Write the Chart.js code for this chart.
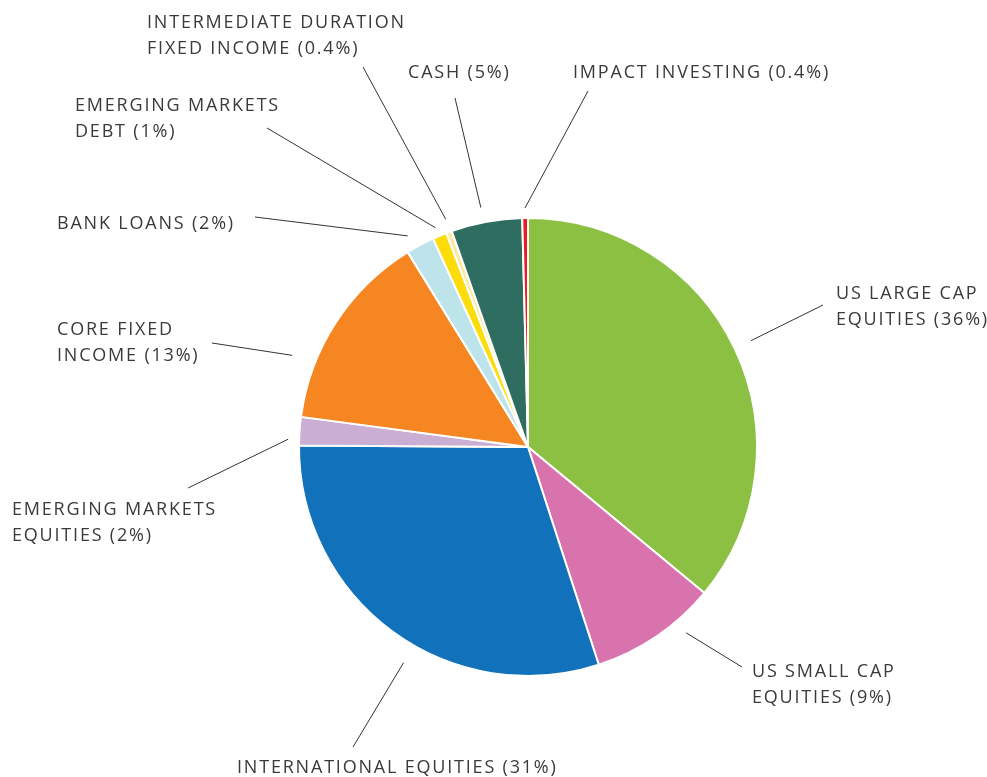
<!DOCTYPE html>
<html>
<head>
<meta charset="utf-8">
<script src="https://cdn.jsdelivr.net/npm/chart.js@4/dist/chart.umd.min.js"></script>
<style>
  body { margin: 0; background: #fff; }
  #wrap { width: 987px; height: 777px; position: relative; }
</style>
</head>
<body>
<div id="wrap"><canvas id="chart"></canvas></div>
<script>
// allocation shares, clockwise from 12 o'clock
const categories = [
  "US LARGE CAP EQUITIES",
  "US SMALL CAP EQUITIES",
  "INTERNATIONAL EQUITIES",
  "EMERGING MARKETS EQUITIES",
  "CORE FIXED INCOME",
  "BANK LOANS",
  "EMERGING MARKETS DEBT",
  "INTERMEDIATE DURATION FIXED INCOME",
  "CASH",
  "IMPACT INVESTING"
];
const shares = [36, 9, 30.1, 2, 14.1, 2, 1, 0.4, 5, 0.4];
const shareLabels = ["36%", "9%", "31%", "2%", "13%", "2%", "1%", "0.4%", "5%", "0.4%"];
const colors = [
  "#8cc043", "#d873ad", "#1271bb", "#cbaed4", "#f58621",
  "#bde3eb", "#fddc0b", "#fde9a4", "#2e6d5f", "#ec1c24"
];

// how each label is broken into lines
const labelLines = [
  ["US LARGE CAP", "EQUITIES (36%)"],
  ["US SMALL CAP", "EQUITIES (9%)"],
  ["INTERNATIONAL EQUITIES (31%)"],
  ["EMERGING MARKETS", "EQUITIES (2%)"],
  ["CORE FIXED", "INCOME (13%)"],
  ["BANK LOANS (2%)"],
  ["EMERGING MARKETS", "DEBT (1%)"],
  ["INTERMEDIATE DURATION", "FIXED INCOME (0.4%)"],
  ["CASH (5%)"],
  ["IMPACT INVESTING (0.4%)"]
];

// label layout, relative to pie centre: text anchor, leader end, leader start tweak
const labelLayout = [
  { tx: 308, ty: -148, ex: 295, ey: -142, shift: -0.3, gap: 18 },
  { tx: 224, ty: 230, ex: 214, ey: 220, shift: -6.2, gap: 15 },
  { tx: -291, ty: 326, ex: -175, ey: 300, shift: -6.2, gap: 20 },
  { tx: -516, ty: 68, ex: -340, ey: 41, shift: -2.1, gap: 11 },
  { tx: -471, ty: -112, ex: -316, ey: -104, shift: -11.7, gap: 24 },
  { tx: -471, ty: -218, ex: -273, ey: -230, shift: -1.6, gap: 14 },
  { tx: -453, ty: -336, ex: -261, ey: -319, shift: -0.2, gap: 9 },
  { tx: -381, ty: -419, ex: -165, ey: -380, shift: 0.3, gap: 13 },
  { tx: -120, ty: -369, ex: -73, ey: -349, shift: -0.7, gap: 15 },
  { tx: 45, ty: -369, ex: 60, ey: -356, shift: 0, gap: 10 }
];

const leaderLabels = {
  id: "leaderLabels",
  afterDatasetsDraw(chart) {
    const ctx = chart.ctx;
    const arcs = chart.getDatasetMeta(0).data;
    ctx.save();
    ctx.strokeStyle = "#333";
    ctx.lineWidth = 1;
    ctx.fillStyle = "#3a3a3a";
    ctx.font = "18px 'Open Sans'";
    ctx.letterSpacing = "1.8px";
    ctx.textBaseline = "alphabetic";
    arcs.forEach((arc, i) => {
      const lay = labelLayout[i];
      const cx = arc.x, cy = arc.y;
      const a = (arc.startAngle + arc.endAngle) / 2 + lay.shift * Math.PI / 180;
      const r = arc.outerRadius + lay.gap;
      ctx.beginPath();
      ctx.moveTo(cx + Math.cos(a) * r, cy + Math.sin(a) * r);
      ctx.lineTo(cx + lay.ex, cy + lay.ey);
      ctx.stroke();
      labelLines[i].forEach((line, j) => {
        ctx.fillText(line, cx + lay.tx, cy + lay.ty + j * 26);
      });
    });
    ctx.restore();
  }
};

new Chart(document.getElementById("chart"), {
  type: "pie",
  data: {
    labels: categories,
    datasets: [{
      data: shares,
      backgroundColor: colors,
      borderColor: "#ffffff",
      borderWidth: 2
    }]
  },
  options: {
    responsive: true,
    maintainAspectRatio: false,
    animation: false,
    events: [],
    layout: { padding: { left: 298, right: 229, top: 217, bottom: 100 } },
    plugins: {
      legend: { display: false },
      tooltip: { enabled: false }
    }
  },
  plugins: [leaderLabels]
});
</script>
</body>
</html>
